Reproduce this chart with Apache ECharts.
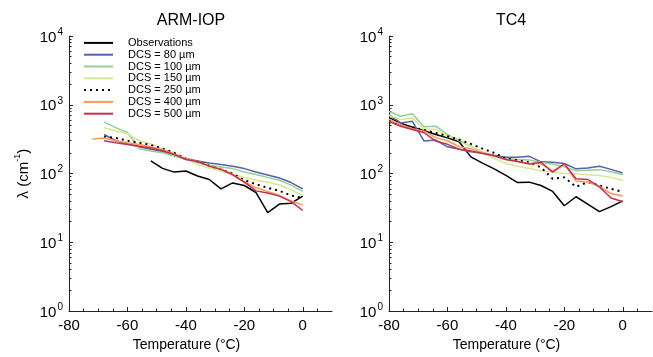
<!DOCTYPE html>
<html>
<head>
<meta charset="utf-8">
<title>ARM-IOP / TC4</title>
<script src="https://cdn.jsdelivr.net/npm/echarts@6/dist/echarts.min.js"></script>
</head>
<body style="margin:0">
<div id="main" style="width:653px;height:357px;"></div>
<script type="text/javascript">
// temperature bins (degC)
var tempsArm = [-72,-68,-64,-60,-56,-52,-48,-44,-40,-36,-32,-28,-24,-20,-16,-12,-8,-4,0];
var tempsTc4 = [-80,-76,-72,-68,-64,-60,-56,-52,-48,-44,-40,-36,-32,-28,-24,-20,-16,-12,-8,-4,0];

// lambda (cm^-1), ARM-IOP
var armObs = [null,null,null,null,null,153,119,105,109,92,82,60,73,67,53,27,36,37,47];
var arm80  = [null,370,300,270,245,225,210,185,165,152,142,135,128,118,105,95,86,74,60];
var arm100 = [null,565,465,395,230,213,200,180,160,145,132,125,118,105,97,88,80,68,55];
var arm150 = [null,462,420,380,300,270,230,200,165,135,120,108,98,88,80,75,68,58,48];
var arm250 = [null,344,330,300,280,260,230,200,165,150,130,115,100,80,70,62,56,48,44];
var arm400 = [318,328,300,280,265,245,222,192,165,150,130,116,98,76,62,55,48,40,35];
var arm500 = [null,300,280,265,250,235,215,190,160,150,128,115,96,75,56,52,47,39,29];

// lambda (cm^-1), TC4
var tcObs = [650,540,470,420,370,330,290,175,142,117,94,74,75,67,55,34,46,36,28,33,40];
var tc80  = [717,545,575,297,307,245,226,207,200,185,172,172,178,148,146,140,117,120,128,115,102];
var tc100 = [800,680,740,478,488,370,300,250,205,178,165,160,158,145,138,125,110,112,114,106,96];
var tc150 = [700,610,640,440,440,350,320,250,200,165,140,128,118,110,105,100,99,96,94,88,79];
var tc250 = [560,500,470,430,390,350,310,270,230,200,165,155,146,123,84,88,64,75,67,60,54];
var tc400 = [620,513,447,413,333,300,245,230,200,180,160,150,140,140,108,138,78,75,65,51,47];
var tc500 = [575,488,437,392,297,266,226,213,195,181,160,150,138,146,105,138,84,82,64,44,39];

var names = ['Observations','DCS = 80 µm','DCS = 100 µm','DCS = 150 µm','DCS = 250 µm','DCS = 400 µm','DCS = 500 µm'];
var colors = ['#000000','#5561ae','#92d196','#d5e98e','#000000','#fb9a50','#c62f52'];
var lineTypes = ['solid','solid','solid','solid',[2,4],'solid','solid'];

var majorX = [-80,-60,-40,-20,0];
var minorX = [-75,-70,-65,-55,-50,-45,-35,-30,-25,-15,-10,-5,5];
var minorY = [];
[1,10,100,1000].forEach(function (d) {
  for (var k = 2; k <= 9; k++) minorY.push(k * d);
});

var font = '"Liberation Sans", Arial, sans-serif';
var axisColor = '#222';

function pairs(temps, vals) {
  var out = [];
  temps.forEach(function (t, i) { if (vals[i] != null) out.push([t, vals[i]]); });
  return out;
}

function xAxes(grid) {
  return [{
    type: 'value', gridIndex: grid, min: -80, max: 10, position: 'bottom',
    axisLine: { onZero: false, lineStyle: { color: axisColor, width: 1 } },
    axisTick: { inside: true, length: 4, customValues: majorX, lineStyle: { color: axisColor } },
    axisLabel: { customValues: majorX, color: '#000', fontSize: 15, margin: 7, fontFamily: font },
    splitLine: { show: false },
    name: 'Temperature (°C)', nameLocation: 'middle', nameGap: 24,
    nameTextStyle: { color: '#000', fontSize: 14, fontFamily: font, padding: [0, 28, 0, 0] }
  }, {
    type: 'value', gridIndex: grid, min: -80, max: 10, position: 'bottom',
    axisLine: { show: false, onZero: false },
    axisTick: { inside: true, length: 2.5, customValues: minorX, lineStyle: { color: axisColor } },
    axisLabel: { show: false }, splitLine: { show: false }
  }];
}

function yAxes(grid, withName) {
  var main = {
    type: 'log', logBase: 10, gridIndex: grid, min: 1, max: 10000, position: 'left',
    axisLine: { show: true, onZero: false, lineStyle: { color: axisColor, width: 1 } },
    axisTick: { show: true, inside: true, length: 4, lineStyle: { color: axisColor } },
    axisLabel: {
      margin: 6,
      formatter: function (v) { return '{b|10}{e|' + Math.round(Math.log10(v)) + '}'; },
      rich: {
        b: { fontSize: 15, color: '#000', fontFamily: font, verticalAlign: 'bottom', lineHeight: 18 },
        e: { fontSize: 10, color: '#000', fontFamily: font, verticalAlign: 'top', lineHeight: 18, padding: [0, 0, 0, 1] }
      }
    },
    splitLine: { show: false }
  };
  if (withName) {
    main.name = '{a|λ (cm}{s|-1}{a|)}';
    main.nameLocation = 'middle';
    main.nameRotate = 90;
    main.nameGap = 38;
    main.nameTextStyle = {
      rich: {
        a: { fontSize: 15, color: '#000', fontFamily: font, verticalAlign: 'bottom', lineHeight: 18 },
        s: { fontSize: 9, color: '#000', fontFamily: font, verticalAlign: 'top', lineHeight: 18 }
      }
    };
  }
  return [main, {
    type: 'log', logBase: 10, gridIndex: grid, min: 1, max: 10000, position: 'left',
    axisLine: { show: false, onZero: false },
    axisTick: { show: true, inside: true, length: 2.5, customValues: minorY, lineStyle: { color: axisColor } },
    axisLabel: { show: false }, splitLine: { show: false }
  }];
}

function panelSeries(temps, sets, axisIdx) {
  return sets.map(function (vals, i) {
    return {
      type: 'line', name: names[i], xAxisIndex: axisIdx, yAxisIndex: axisIdx,
      data: pairs(temps, vals), symbol: 'none', silent: true,
      lineStyle: { color: colors[i], width: i === 4 ? 2 : 1.5, type: lineTypes[i] },
      itemStyle: { color: colors[i] }
    };
  });
}

var echart = echarts.init(document.getElementById('main'));
var option = {
  animation: false,
  textStyle: { fontFamily: font },
  title: [
    { text: 'ARM-IOP', left: 186, top: 8, textAlign: 'center', textStyle: { fontSize: 16, fontWeight: 'normal', color: '#000', fontFamily: font } },
    { text: 'TC4', left: 506, top: 8, textAlign: 'center', textStyle: { fontSize: 16, fontWeight: 'normal', color: '#000', fontFamily: font } }
  ],
  legend: {
    data: names, orient: 'vertical', left: 83, top: 37, padding: 0,
    itemWidth: 29, itemHeight: 10, itemGap: 0, selectedMode: false,
    itemStyle: { opacity: 0 },
    textStyle: { fontSize: 11, color: '#000', fontFamily: font, lineHeight: 11.8, padding: [0, 0, 0, 10] }
  },
  grid: [
    { left: 69, top: 36, width: 263, height: 278 },
    { left: 389, top: 36, width: 263, height: 278 }
  ],
  xAxis: xAxes(0).concat(xAxes(1)),
  yAxis: yAxes(0, true).concat(yAxes(1, false)),
  series: panelSeries(tempsArm, [armObs, arm80, arm100, arm150, arm250, arm400, arm500], 0)
    .concat(panelSeries(tempsTc4, [tcObs, tc80, tc100, tc150, tc250, tc400, tc500], 2))
};
echart.setOption(option);
</script>
</body>
</html>
